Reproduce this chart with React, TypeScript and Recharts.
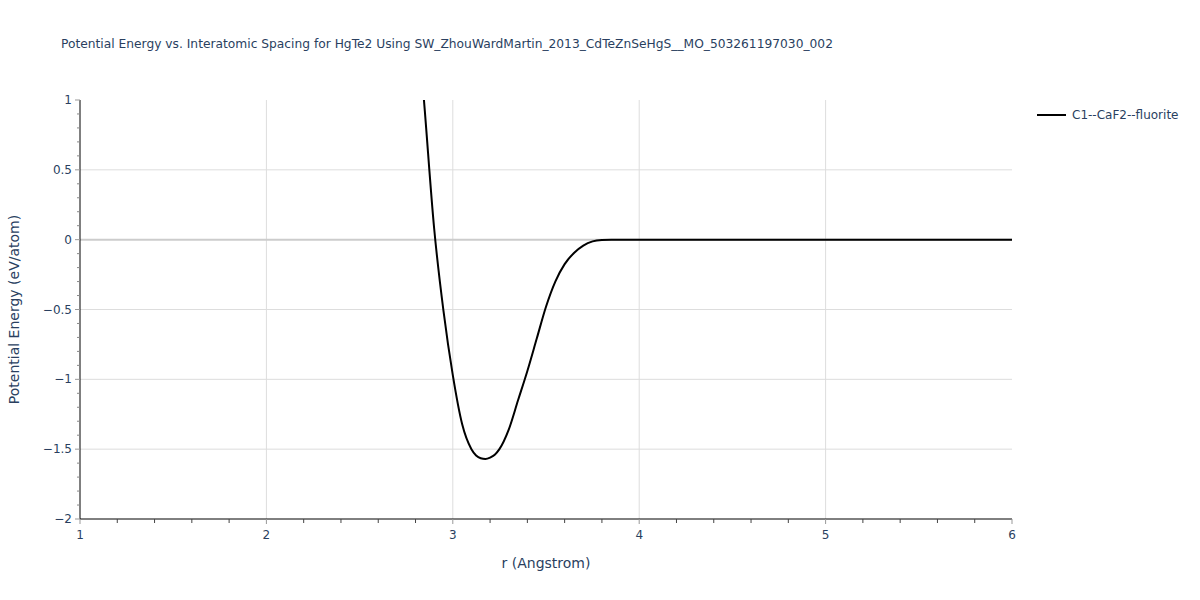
import React from 'react';
import { LineChart, Line, XAxis, YAxis, ReferenceLine } from 'recharts';

const chartTitle =
  'Potential Energy vs. Interatomic Spacing for HgTe2 Using SW_ZhouWardMartin_2013_CdTeZnSeHgS__MO_503261197030_002';
const xTitle = 'r (Angstrom)';
const yTitle = 'Potential Energy (eV/atom)';
const seriesName = 'C1--CaF2--fluorite';

const rValues = [
  2.8, 2.85, 2.9, 2.95, 3.0, 3.05, 3.1, 3.125, 3.15, 3.175, 3.2, 3.225, 3.25, 3.3, 3.35, 3.4, 3.45,
  3.5, 3.55, 3.6, 3.65, 3.7, 3.75, 3.8, 3.85, 3.9, 4.0, 4.5, 5.0, 5.5, 6.0,
];
const energies = [
  1.75, 0.92, 0.08, -0.51, -0.97, -1.32, -1.5, -1.545, -1.565, -1.57, -1.56, -1.54, -1.5, -1.36,
  -1.15, -0.94, -0.71, -0.48, -0.3, -0.175, -0.095, -0.042, -0.012, -0.002, 0, 0, 0, 0, 0, 0, 0,
];

const xMajorTicks = [1, 2, 3, 4, 5, 6];
const xAllTicks = [
  1, 1.2, 1.4, 1.6, 1.8, 2, 2.2, 2.4, 2.6, 2.8, 3, 3.2, 3.4, 3.6, 3.8, 4, 4.2, 4.4, 4.6, 4.8, 5, 5.2,
  5.4, 5.6, 5.8, 6,
];
const yMajorTicks = [-2, -1.5, -1, -0.5, 0, 0.5, 1];
const yAllTicks = [
  -2, -1.9, -1.8, -1.7, -1.6, -1.5, -1.4, -1.3, -1.2, -1.1, -1, -0.9, -0.8, -0.7, -0.6, -0.5, -0.4,
  -0.3, -0.2, -0.1, 0, 0.1, 0.2, 0.3, 0.4, 0.5, 0.6, 0.7, 0.8, 0.9, 1,
];
const xGrid = [2, 3, 4, 5];
const yGrid = [-1.5, -1, -0.5, 0.5];

const data = rValues.map((r, i) => ({ r, e: energies[i] }));

const TEXT = '#2a3f5f';
const FONT = '"DejaVu Sans", Verdana, sans-serif';

const isIn = (list: number[], v: number) => list.some((m) => Math.abs(m - v) < 1e-9);
const fmt = (v: number) => (v < 0 ? '\u2212' + String(Math.abs(v)) : String(v));

const XTick = (props: any) => {
  const { x, y, payload } = props;
  const v = payload.value as number;
  if (isIn(xMajorTicks, v)) {
    return (
      <g>
        <line x1={x} x2={x} y1={y} y2={y + 5} stroke="#999" strokeWidth={1} />
        <text x={x} y={y + 20} textAnchor="middle" fontSize={12} fill={TEXT} fontFamily={FONT}>
          {fmt(v)}
        </text>
      </g>
    );
  }
  return <line x1={x} x2={x} y1={y} y2={y + 4} stroke="#444" strokeWidth={1} />;
};

const YTick = (props: any) => {
  const { x, y, payload } = props;
  const v = payload.value as number;
  if (isIn(yMajorTicks, v)) {
    return (
      <g>
        <line x1={x - 5} x2={x} y1={y} y2={y} stroke="#999" strokeWidth={1} />
        <text
          x={x - 8}
          y={y}
          textAnchor="end"
          dominantBaseline="central"
          fontSize={12}
          fill={TEXT}
          fontFamily={FONT}
        >
          {fmt(v)}
        </text>
      </g>
    );
  }
  return <line x1={x - 3} x2={x} y1={y} y2={y} stroke="#888" strokeWidth={1} />;
};

export default function App() {
  return (
    <div
      style={{
        position: 'absolute',
        top: 0,
        left: 0,
        width: 1200,
        height: 600,
        background: '#fff',
        fontFamily: FONT,
      }}
    >
      <div
        style={{
          position: 'absolute',
          left: 61,
          top: 37,
          fontSize: 12.25,
          color: TEXT,
          whiteSpace: 'nowrap',
          fontFamily: FONT,
        }}
      >
        {chartTitle}
      </div>
      <svg
        width={165}
        height={24}
        style={{ position: 'absolute', left: 1035, top: 105 }}
      >
        <line x1={2} x2={31} y1={10} y2={10} stroke="#000" strokeWidth={2} />
        <text x={37} y={10} dominantBaseline="central" fontSize={12} fill={TEXT} fontFamily={FONT}>
          {seriesName}
        </text>
      </svg>
      <LineChart
        width={1200}
        height={600}
        data={data}
        margin={{ top: 100, right: 188, bottom: 0, left: 0 }}
      >
        <XAxis
          dataKey="r"
          type="number"
          domain={[1, 6]}
          ticks={xAllTicks}
          interval={0}
          height={81}
          tickSize={0}
          tickMargin={0}
          tick={<XTick />}
          axisLine={{ stroke: '#000', strokeWidth: 1 }}
          tickLine={false}
          label={{
            content: (p: any) => {
              const vb = p.viewBox;
              return (
                <text
                  x={vb.x + vb.width / 2}
                  y={vb.y + 44}
                  dominantBaseline="central"
                  textAnchor="middle"
                  fontSize={14}
                  fill={TEXT}
                  fontFamily={FONT}
                >
                  {xTitle}
                </text>
              );
            },
          }}
        />
        <YAxis
          type="number"
          domain={[-2, 1]}
          allowDataOverflow
          ticks={yAllTicks}
          interval={0}
          width={80}
          tickSize={0}
          tickMargin={0}
          tick={<YTick />}
          axisLine={{ stroke: '#000', strokeWidth: 1 }}
          tickLine={false}
          label={{
            content: (p: any) => {
              const vb = p.viewBox;
              const cx = 14;
              const cy = vb.y + vb.height / 2;
              return (
                <text
                  x={cx}
                  y={cy}
                  transform={`rotate(-90 ${cx} ${cy})`}
                  dominantBaseline="central"
                  textAnchor="middle"
                  fontSize={14}
                  fill={TEXT}
                  fontFamily={FONT}
                >
                  {yTitle}
                </text>
              );
            },
          }}
        />
        {xGrid.map((v) => (
          <ReferenceLine key={'gx' + v} x={v} stroke="#dddddd" strokeWidth={1} />
        ))}
        {yGrid.map((v) => (
          <ReferenceLine key={'gy' + v} y={v} stroke="#dddddd" strokeWidth={1} />
        ))}
        <ReferenceLine y={0} stroke="#cccccc" strokeWidth={2} />
        <Line
          name={seriesName}
          dataKey="e"
          type="monotone"
          stroke="#000"
          strokeWidth={2}
          dot={false}
          activeDot={false}
          isAnimationActive={false}
        />
      </LineChart>
    </div>
  );
}
